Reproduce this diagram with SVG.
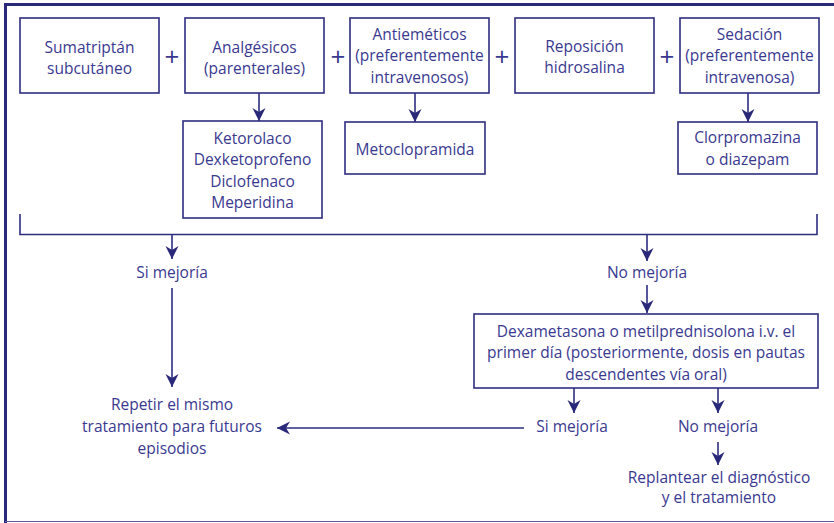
<svg xmlns="http://www.w3.org/2000/svg" width="834" height="523" viewBox="0 0 834 523">
<style>
.box{fill:#fff;stroke:#2e2d80;stroke-width:1.6}
.ln{fill:none;stroke:#2e2d80;stroke-width:1.6}
text{font-family:"Open Sans","Noto Sans","Liberation Sans",sans-serif;font-size:15.5px;fill:#3a3990;text-anchor:middle}
.plus{font-size:26px}
</style>
<defs>
<marker id="ah" markerUnits="userSpaceOnUse" markerWidth="14" markerHeight="14" refX="13" refY="6.5" orient="auto">
<path d="M0,0 L13,6.5 L0,13 L4,6.5 z" fill="#2a2878"/>
</marker>
</defs>
<rect width="834" height="523" fill="#fff"/>
<g id="frame">
<line x1="4" y1="4.5" x2="834" y2="4.5" stroke="#2b2a7a" stroke-width="3"/>
<line x1="5.5" y1="3" x2="5.5" y2="523" stroke="#2b2a7a" stroke-width="3"/>
<line x1="5" y1="521.5" x2="834" y2="521.5" stroke="#5a59a0" stroke-width="1.2"/>
</g>
<g id="connectors">
<line class="ln" x1="259" y1="93" x2="259" y2="121" marker-end="url(#ah)"/>
<line class="ln" x1="415" y1="93" x2="415" y2="122" marker-end="url(#ah)"/>
<line class="ln" x1="748" y1="93" x2="748" y2="122" marker-end="url(#ah)"/>
<polyline class="ln" points="20,214 20,234.5 817,234.5 817,214"/>
<line class="ln" x1="172" y1="234.5" x2="172" y2="259" marker-end="url(#ah)"/>
<line class="ln" x1="647" y1="234.5" x2="647" y2="261" marker-end="url(#ah)"/>
<line class="ln" x1="172" y1="288" x2="172" y2="387" marker-end="url(#ah)"/>
<line class="ln" x1="647" y1="285" x2="647" y2="313" marker-end="url(#ah)"/>
<line class="ln" x1="574" y1="388" x2="574" y2="413" marker-end="url(#ah)"/>
<line class="ln" x1="718" y1="388" x2="718" y2="413" marker-end="url(#ah)"/>
<line class="ln" x1="718" y1="442" x2="718" y2="465" marker-end="url(#ah)"/>
<line class="ln" x1="524" y1="428" x2="277" y2="428" marker-end="url(#ah)"/>
</g>
<g id="sumatriptan">
<rect class="box" x="20" y="18" width="139" height="75"/>
<text x="89.5" y="53">Sumatriptán</text>
<text x="89.5" y="74">subcutáneo</text>
</g>
<text class="plus" x="172" y="66">+</text>
<g id="analgesicos">
<rect class="box" x="185" y="18" width="139" height="75"/>
<text x="254.5" y="53">Analgésicos</text>
<text x="254.5" y="74">(parenterales)</text>
</g>
<text class="plus" x="338" y="66">+</text>
<g id="antiemeticos">
<rect class="box" x="350" y="18" width="139" height="75"/>
<text x="419.5" y="40">Antieméticos</text>
<text x="419.5" y="61">(preferentemente</text>
<text x="419.5" y="83">intravenosos)</text>
</g>
<text class="plus" x="502" y="66">+</text>
<g id="reposicion">
<rect class="box" x="515" y="18" width="139" height="75"/>
<text x="584.5" y="52">Reposición</text>
<text x="584.5" y="73">hidrosalina</text>
</g>
<text class="plus" x="667" y="66">+</text>
<g id="sedacion">
<rect class="box" x="680" y="18" width="139" height="75"/>
<text x="749.5" y="40">Sedación</text>
<text x="749.5" y="61">(preferentemente</text>
<text x="749.5" y="83">intravenosa)</text>
</g>
<g id="ketorolaco">
<rect class="box" x="183" y="121" width="139" height="97"/>
<text x="252.5" y="144">Ketorolaco</text>
<text x="252.5" y="165">Dexketoprofeno</text>
<text x="252.5" y="187">Diclofenaco</text>
<text x="252.5" y="208">Meperidina</text>
</g>
<g id="metoclopramida">
<rect class="box" x="345" y="122" width="140" height="52"/>
<text x="415" y="155">Metoclopramida</text>
</g>
<g id="clorpromazina">
<rect class="box" x="678" y="122" width="139" height="52"/>
<text x="747.5" y="143">Clorpromazina</text>
<text x="747.5" y="165">o diazepam</text>
</g>
<g id="si-mejoria-1"><text x="172" y="278">Si mejoría</text></g>
<g id="no-mejoria-1"><text x="647" y="278">No mejoría</text></g>
<g id="repetir">
<text x="172" y="410">Repetir el mismo</text>
<text x="172" y="432">tratamiento para futuros</text>
<text x="172" y="454">episodios</text>
</g>
<g id="dexametasona">
<rect class="box" x="474" y="314" width="344" height="74"/>
<text x="646" y="337">Dexametasona o metilprednisolona i.v. el</text>
<text x="646" y="358">primer día (posteriormente, dosis en pautas</text>
<text x="646" y="380">descendentes vía oral)</text>
</g>
<g id="si-mejoria-2"><text x="572" y="432">Si mejoría</text></g>
<g id="no-mejoria-2"><text x="718" y="432">No mejoría</text></g>
<g id="replantear">
<text x="719" y="483">Replantear el diagnóstico</text>
<text x="719" y="503">y el tratamiento</text>
</g>
</svg>
